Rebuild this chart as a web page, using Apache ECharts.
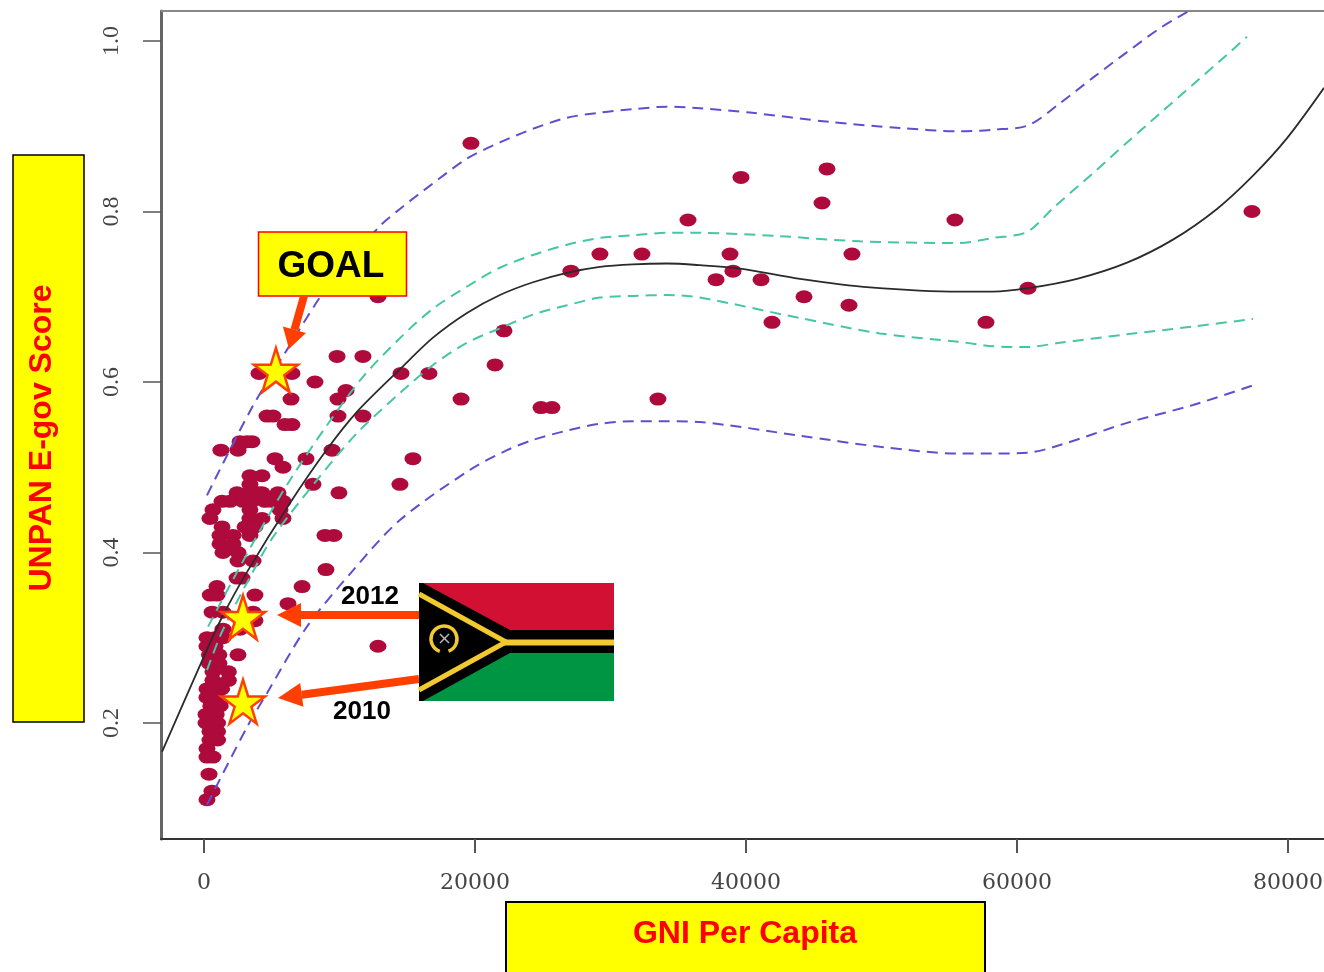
<!DOCTYPE html>
<html><head><meta charset="utf-8">
<style>html,body{margin:0;padding:0;background:#fff;overflow:hidden}#c{width:1324px;height:972px}</style>
<script src="https://cdn.jsdelivr.net/npm/echarts@6/dist/echarts.min.js"></script>
</head><body><div id="c"></div>
<script>
const xTicks = [0, 20000, 40000, 60000, 80000];
const yTicks = [0.2, 0.4, 0.6, 0.8, 1.0];
const xTitle = 'GNI Per Capita';
const yTitle = 'UNPAN E-gov Score';

const pointGni = [
19700,39630,45980,45610,35720,55420,77340,29220,32320,38820,47820,27080,39040,37790,41110,44280,60810,47600,41920,57710,22140,12840,16600,14540,21480,18970,33500,24870,25680,
9820,11730,4060,6490,5300,8190,10480,9890,6420,4650,5090,9890,11730,5980,6490,2510,1250,9450,5240,7530,15420,5830,3540,2660,3170,3390,4280,8040,14460,9960,
3540,4280,3390,2440,3250,3990,5460,1330,1920,2880,3540,4500,5020,5830,660,3390,5610,440,3390,4280,5830,1330,3030,3760,1180,2140,3390,1180,2140,8930,9590,1400,2510,2510,3620,9000,2440,2800,
960,460,960,3760,6200,7240,600,3620,1400,3760,2880,2660,1400,1400,12840,2510,
220,810,220,810,400,1100,400,1100,660,1800,660,1800,220,810,1300,220,900,500,1200,150,900,150,1000,440,1000,440,1000,220,220,660,370,590,220];
const pointScore = [
0.88,0.84,0.85,0.81,0.79,0.79,0.80,0.75,0.75,0.75,0.75,0.73,0.73,0.72,0.72,0.70,0.71,0.69,0.67,0.67,0.66,0.70,0.61,0.61,0.62,0.58,0.58,0.57,0.57,
0.63,0.63,0.61,0.61,0.61,0.60,0.59,0.58,0.58,0.56,0.56,0.56,0.56,0.55,0.55,0.52,0.52,0.52,0.51,0.51,0.51,0.50,0.53,0.53,0.53,0.49,0.49,0.48,0.48,0.47,
0.47,0.47,0.48,0.47,0.47,0.47,0.47,0.46,0.46,0.46,0.46,0.46,0.46,0.46,0.45,0.45,0.45,0.44,0.44,0.44,0.44,0.43,0.43,0.43,0.42,0.42,0.42,0.41,0.41,0.42,0.42,0.40,0.40,0.39,0.39,0.38,0.37,0.37,
0.36,0.35,0.35,0.35,0.34,0.36,0.33,0.33,0.33,0.32,0.32,0.31,0.30,0.31,0.29,0.28,
0.30,0.30,0.29,0.29,0.28,0.28,0.27,0.27,0.26,0.26,0.25,0.25,0.24,0.24,0.24,0.23,0.23,0.22,0.22,0.21,0.21,0.20,0.20,0.19,0.19,0.18,0.18,0.17,0.16,0.16,0.14,0.12,0.11];

const fitGni = [-3100,220,1330,3170,6350,9080,11290,14460,16900,19410,21840,24280,26790,29220,31660,34170,36600,39560,43980,49150,55790,58230,60810,64430,68120,71510,74760,77420,79930,82660];
const fitScore = [0.166,0.286,0.324,0.377,0.458,0.521,0.565,0.615,0.652,0.681,0.702,0.717,0.728,0.735,0.738,0.739,0.737,0.733,0.721,0.711,0.706,0.706,0.710,0.721,0.740,0.767,0.803,0.842,0.886,0.945];
const upperGreenGni = [300,2440,4280,6350,8930,11730,14690,16900,19410,21840,24280,26790,29220,31660,34170,36600,42510,48410,55790,58230,60740,62660,65610,68120,70550,72990,75500,76970];
const upperGreenScore = [0.313,0.377,0.430,0.485,0.546,0.606,0.655,0.686,0.712,0.734,0.749,0.761,0.769,0.772,0.775,0.775,0.771,0.765,0.763,0.769,0.776,0.804,0.845,0.881,0.915,0.949,0.984,1.005];
const lowerGreenGni = [220,1330,3390,5090,8340,11290,14460,16900,19410,21840,24280,26790,29220,31660,34170,36600,43980,49890,55790,58230,60740,63170,68120,72990,77420];
const lowerGreenScore = [0.262,0.307,0.371,0.418,0.485,0.540,0.587,0.620,0.646,0.663,0.679,0.690,0.699,0.701,0.702,0.699,0.675,0.657,0.647,0.642,0.641,0.646,0.656,0.665,0.674];
const upperBlueGni = [220,3540,6130,9300,12990,14460,16900,19410,21840,24280,26790,29220,31660,34170,36600,40300,46200,51360,55790,58230,60810,63170,65610,68120,70550,72770];
const upperBlueScore = [0.467,0.570,0.638,0.716,0.783,0.803,0.833,0.862,0.881,0.897,0.910,0.916,0.920,0.923,0.921,0.916,0.905,0.898,0.894,0.896,0.901,0.927,0.957,0.987,1.015,1.036];
const lowerBlueGni = [220,3170,4650,7600,11000,14460,19630,22360,24280,26790,29220,31660,34170,36600,43980,49890,55790,58230,60810,63170,68120,72990,77420];
const lowerBlueScore = [0.104,0.195,0.235,0.313,0.379,0.438,0.497,0.520,0.532,0.543,0.551,0.554,0.554,0.553,0.537,0.524,0.516,0.516,0.517,0.526,0.552,0.573,0.596];

const starGni = [5310, 2880, 2880];
const starScore = [0.614, 0.324, 0.225];

const zip = (a, b) => a.map((v, i) => [v, b[i]]);
const ORANGE = '#ff3f00', SANS = '"Liberation Sans", Arial, sans-serif', GOLD = '#f2c92e';
const STAR = 'path://M50 0 L61.8 36.2 L100 36.2 L69.1 58.6 L80.9 95.1 L50 72.6 L19.1 95.1 L30.9 58.6 L0 36.2 L38.2 36.2 Z';

function curve(name, x, y, color, dashed) {
  return {
    type: 'line', name, data: zip(x, y), smooth: 0.3, showSymbol: false, symbol: 'none',
    clip: true, silent: true, z: 3,
    lineStyle: { color, width: dashed ? 2 : 1.8, type: dashed ? [11, 7] : 'solid' }
  };
}
function arrow(x1, y1, x2, y2, width, headLen, headHalf) {
  const a = Math.atan2(y2 - y1, x2 - x1), c = Math.cos(a), s = Math.sin(a);
  const bx = x2 - c * headLen, by = y2 - s * headLen;
  return [
    { type: 'line', z: 100, shape: { x1, y1, x2: bx, y2: by }, style: { stroke: ORANGE, lineWidth: width } },
    { type: 'polygon', z: 101, shape: { points: [[x2, y2], [bx - s * headHalf, by + c * headHalf], [bx + s * headHalf, by - c * headHalf]] }, style: { fill: ORANGE } }
  ];
}

const graphic = [
  { type: 'line', z: 1, shape: { x1: 161, y1: 11, x2: 1324, y2: 11 }, style: { stroke: '#888', lineWidth: 2 } },
  { type: 'rect', z: 100, shape: { x: 13, y: 155, width: 71, height: 567 }, style: { fill: '#ffff00', stroke: '#000', lineWidth: 1.5 } },
  { type: 'text', z: 101, x: 42, y: 438, rotation: Math.PI / 2, style: { text: yTitle, font: 'bold 32px ' + SANS, fill: '#ff0000', align: 'center', verticalAlign: 'middle' } },
  { type: 'rect', z: 100, shape: { x: 506, y: 902, width: 479, height: 80 }, style: { fill: '#ffff00', stroke: '#000', lineWidth: 2 } },
  { type: 'text', z: 101, x: 745, y: 934, style: { text: xTitle, font: 'bold 32px ' + SANS, fill: '#ff0000', align: 'center', verticalAlign: 'middle' } },
  { type: 'rect', z: 100, shape: { x: 258.5, y: 232, width: 148, height: 64 }, style: { fill: '#ffff00', stroke: '#ff0000', lineWidth: 1.5 } },
  { type: 'text', z: 101, x: 331, y: 267, style: { text: 'GOAL', font: 'bold 37px ' + SANS, fill: '#000', align: 'center', verticalAlign: 'middle' } },
  ...arrow(304, 296, 289, 349, 8, 20, 12),
  ...arrow(419, 615, 277, 615, 8, 24, 12),
  ...arrow(419, 679, 278, 698, 8, 24, 12),
  { type: 'text', z: 101, x: 370, y: 597, style: { text: '2012', font: 'bold 26px ' + SANS, fill: '#000', align: 'center', verticalAlign: 'middle' } },
  { type: 'text', z: 101, x: 362, y: 712, style: { text: '2010', font: 'bold 26px ' + SANS, fill: '#000', align: 'center', verticalAlign: 'middle' } },
  // flag
  { type: 'rect', z: 102, shape: { x: 419, y: 583, width: 195, height: 118 }, style: { fill: '#000' } },
  { type: 'polygon', z: 103, shape: { points: [[423, 583], [614, 583], [614, 630], [510, 630]] }, style: { fill: '#d21034' } },
  { type: 'polygon', z: 103, shape: { points: [[423, 701], [614, 701], [614, 653], [510, 653]] }, style: { fill: '#009543' } },
  { type: 'polyline', z: 104, shape: { points: [[419, 594], [506, 642], [419, 690]] }, style: { stroke: GOLD, lineWidth: 5, fill: null } },
  { type: 'line', z: 104, shape: { x1: 504, y1: 642.5, x2: 614, y2: 642.5 }, style: { stroke: GOLD, lineWidth: 6 } },
  { type: 'arc', z: 104, shape: { cx: 444, cy: 639, r: 13, startAngle: 1.9, endAngle: 7.5, clockwise: true }, style: { stroke: GOLD, lineWidth: 3.5, fill: null } },
  { type: 'line', z: 104, shape: { x1: 440, y1: 634, x2: 449, y2: 643 }, style: { stroke: '#bbb', lineWidth: 1.5 } },
  { type: 'line', z: 104, shape: { x1: 449, y1: 634, x2: 440, y2: 643 }, style: { stroke: '#bbb', lineWidth: 1.5 } }
];

const chart = echarts.init(document.getElementById('c'), null, { renderer: 'canvas' });
chart.setOption({
  animation: false,
  backgroundColor: '#fff',
  grid: { left: 161, right: 0, top: 11, bottom: 133, show: false, outerBoundsMode: 'none', containLabel: false },
  xAxis: {
    type: 'value', min: -3173, max: 82657, splitLine: { show: false },
    axisLine: { show: true, onZero: false, lineStyle: { color: '#333', width: 2 } },
    axisTick: { show: true, length: 14, customValues: xTicks, lineStyle: { color: '#555', width: 2 } },
    axisLabel: { customValues: xTicks, margin: 33, hideOverlap: false, showMinLabel: true, showMaxLabel: true, fontFamily: '"DejaVu Serif", serif', fontSize: 22, color: '#444', formatter: v => String(v) }
  },
  yAxis: {
    type: 'value', min: 0.0639, max: 1.0352, splitLine: { show: false },
    axisLine: { show: true, onZero: false, lineStyle: { color: '#666', width: 3 } },
    axisTick: { show: true, length: 18, customValues: yTicks, lineStyle: { color: '#555', width: 1.5 } },
    axisLabel: { customValues: yTicks, rotate: 90, margin: 37, fontFamily: '"Liberation Serif", serif', fontSize: 24, color: '#444', formatter: v => v.toFixed(1) }
  },
  series: [
    { type: 'scatter', name: 'Countries', data: zip(pointGni, pointScore), symbol: 'circle', symbolSize: [17, 13], z: 2, silent: true, itemStyle: { color: '#ae0a3b', opacity: 1 } },
    curve('Fit', fitGni, fitScore, '#2b2b2b', false),
    curve('Upper confidence', upperGreenGni, upperGreenScore, '#45c6a4', true),
    curve('Lower confidence', lowerGreenGni, lowerGreenScore, '#45c6a4', true),
    curve('Upper prediction', upperBlueGni, upperBlueScore, '#5f4fd0', true),
    curve('Lower prediction', lowerBlueGni, lowerBlueScore, '#5f4fd0', true),
    { type: 'scatter', name: 'Vanuatu', data: zip(starGni, starScore), symbol: STAR, symbolSize: 44, z: 10, silent: true, itemStyle: { color: '#ffff00', opacity: 1, borderColor: ORANGE, borderWidth: 2.5 } }
  ],
  graphic: { elements: graphic }
});
</script></body></html>
